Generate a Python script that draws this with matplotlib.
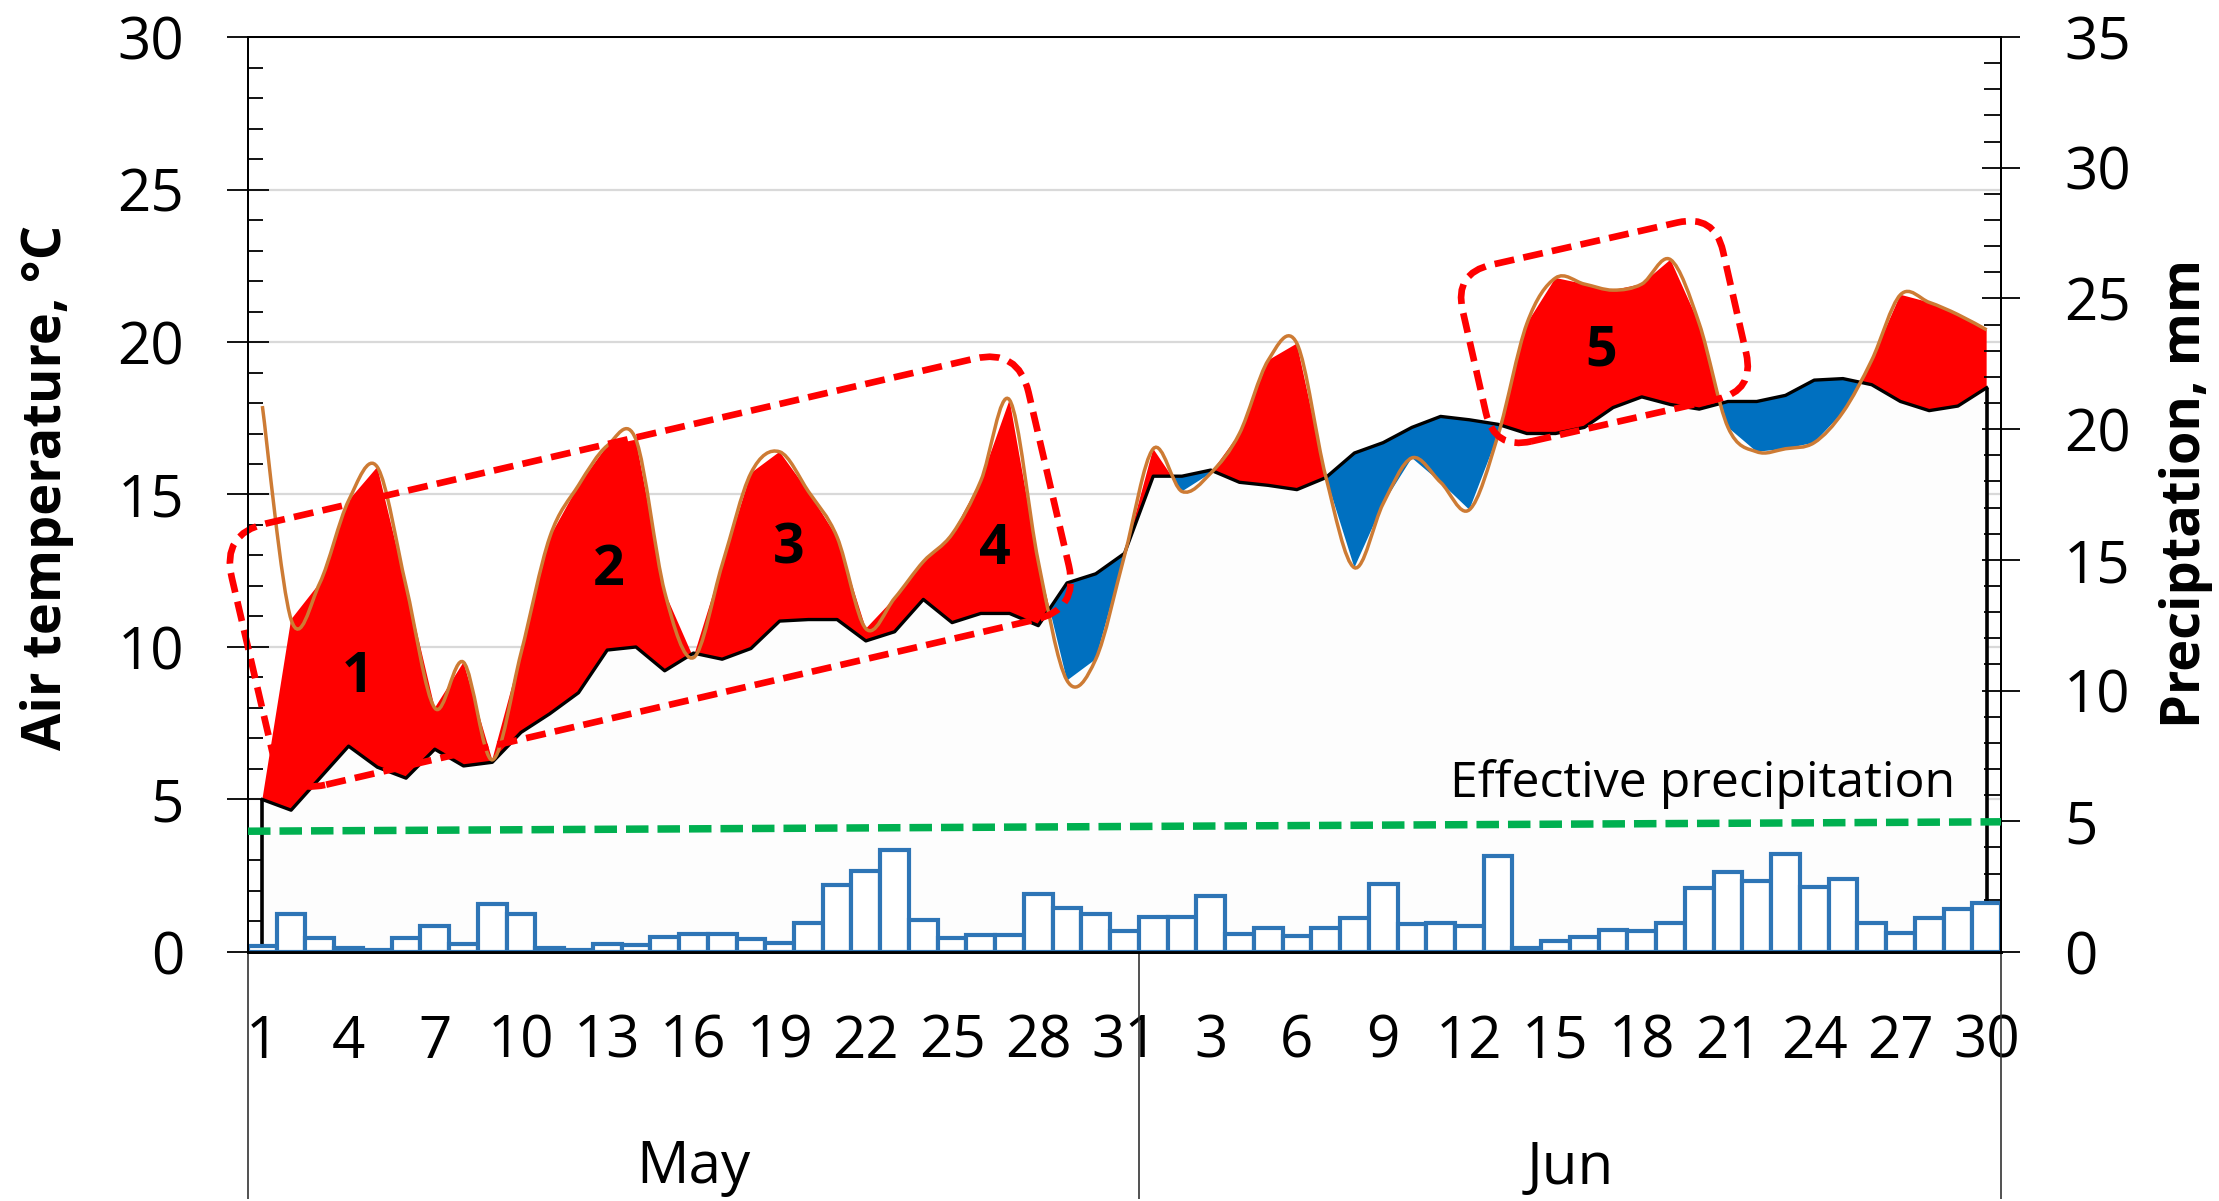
import numpy as np
import matplotlib.pyplot as plt
from matplotlib.path import Path
from matplotlib.patches import PathPatch, FancyBboxPatch
from matplotlib.transforms import Affine2D, ScaledTranslation, blended_transform_factory
from matplotlib.ticker import MultipleLocator

plt.rcParams['font.family'] = ['Open Sans', 'DejaVu Sans']

# daily values, May 1 .. Jun 30
may_days = list(range(1, 32))
jun_days = list(range(1, 31))
months = ['May', 'Jun']

# air temperature (orange, smoothed line)
air_temp = [17.9, 10.9, 12.1, 14.8, 15.9, 12.0, 8.0, 9.5, 6.3, 9.8,
            13.6, 15.3, 16.6, 16.8, 11.8, 9.65, 12.7, 15.7, 16.4, 15.1,
            13.6, 10.6, 11.6, 12.8, 13.7, 15.45, 18.1, 12.8, 8.9, 9.6,
            13.0,
            16.5, 15.1, 15.7, 17.0, 19.4, 19.95, 15.6, 12.6, 14.7, 16.2,
            15.4, 14.5, 16.95, 20.6, 22.1, 21.9, 21.7, 21.9, 22.7, 20.6,
            17.2, 16.4, 16.5, 16.7, 17.7, 19.4, 21.55, 21.3, 20.9, 20.4]

# long-term norm (black line)
temp_norm = [5.0, 4.65, 5.7, 6.75, 6.06, 5.7, 6.65, 6.1, 6.22, 7.2,
             7.81, 8.5, 9.9, 10.0, 9.22, 9.8, 9.6, 9.95, 10.85, 10.9,
             10.9, 10.2, 10.5, 11.56, 10.8, 11.1, 11.1, 10.7, 12.1, 12.4,
             13.07,
             15.6, 15.6, 15.8, 15.4, 15.3, 15.16, 15.55, 16.36, 16.7, 17.2,
             17.56, 17.45, 17.3, 17.0, 17.0, 17.2, 17.85, 18.2, 17.95, 17.8,
             18.05, 18.05, 18.25, 18.75, 18.8, 18.6, 18.05, 17.75, 17.9, 18.5]

# precipitation, mm
precip = [0.23, 1.44, 0.52, 0.17, 0.09, 0.52, 1.0, 0.29, 1.85, 1.44,
          0.14, 0.06, 0.29, 0.26, 0.59, 0.69, 0.69, 0.49, 0.33, 1.1,
          2.55, 3.1, 3.92, 1.24, 0.52, 0.65, 0.65, 2.23, 1.7, 1.44,
          0.8,
          1.35, 1.32, 2.15, 0.69, 0.93, 0.6, 0.93, 1.29, 2.59, 1.06,
          1.12, 1.0, 3.67, 0.14, 0.42, 0.57, 0.83, 0.79, 1.1, 2.44,
          3.05, 2.72, 3.74, 2.49, 2.81, 1.12, 0.74, 1.29, 1.63, 1.89]

eff_precip = [4.62, 4.98]   # start / end of the effective precipitation line, mm

period_labels = ['1', '2', '3', '4', '5']


def smooth_path(xs, ys):
    # Excel-like smoothed line (cubic bezier through the points)
    pts = np.column_stack([xs, ys]).astype(float)
    n = len(pts)
    verts = [pts[0]]
    codes = [Path.MOVETO]
    for i in range(n - 1):
        p0 = pts[max(i - 1, 0)]
        p1 = pts[i]
        p2 = pts[i + 1]
        p3 = pts[min(i + 2, n - 1)]
        verts += [p1 + (p2 - p0) / 6, p2 - (p3 - p1) / 6, p2]
        codes += [Path.CURVE4] * 3
    return Path(verts, codes)


def dashed_box(ax, cx, cy, w, h, angle, r):
    box = FancyBboxPatch((-w / 2, -h / 2), w, h,
                         boxstyle='round,pad=0,rounding_size=%d' % r,
                         fill=False, edgecolor='#FF0000', lw=4.8,
                         linestyle=(0, (3.0, 1.4)), zorder=8, clip_on=False)
    box.set_transform(Affine2D().rotate_deg(angle) + ScaledTranslation(cx, cy, ax.transData))
    ax.add_patch(box)


x = np.arange(len(may_days) + len(jun_days))
norm = np.array(temp_norm)
warm = np.array(air_temp)
warm[0] = norm[0]   # shading starts from day 2

fig = plt.figure(figsize=(22.19, 12.01), dpi=100)
ax = fig.add_axes([0.11176, 0.20733, 0.79, 0.76186])
ax.set_xlim(-0.5, len(x) - 0.5)
ax.set_ylim(0, 30)

ax.fill_between(x, 0, norm, color='#FDFDFD', lw=0, zorder=1)
ax.fill_between(x, norm, warm, where=warm >= norm, interpolate=True, color='#FF0000', lw=0, zorder=2)
ax.fill_between(x, norm, warm, where=warm <= norm, interpolate=True, color='#0070C0', lw=0, zorder=2)
ax.plot(x, norm, color='black', lw=2.4, zorder=3)
ax.vlines([x[0], x[-1]], 0, [norm[0], norm[-1]], color='black', lw=2.6, zorder=3)
ax.add_patch(PathPatch(smooth_path(x, air_temp), fill=False, edgecolor='#CD7B34', lw=2.5, zorder=4))

ax.yaxis.set_major_locator(MultipleLocator(5))
ax.yaxis.set_minor_locator(MultipleLocator(1))
ax.grid(axis='y', which='major', color='#D9D9D9', lw=1.6)
ax.set_axisbelow(True)
ax.tick_params(axis='y', which='major', direction='inout', length=30, width=1.3, pad=31, labelsize=42)
ax.tick_params(axis='y', which='minor', direction='in', length=11, width=1.3)

day_labels = [str(d) for d in may_days + jun_days]
ax.set_xticks(x[::3])
ax.set_xticklabels(day_labels[::3])
ax.tick_params(axis='x', length=0, pad=44, labelsize=42)
for s in ax.spines.values():
    s.set_linewidth(1.4)
    s.set_color('black')
ax.spines['bottom'].set_linewidth(2)

# month labels and separators under the axis
tr = blended_transform_factory(ax.transData, ax.transAxes)
bounds = [-0.5, len(may_days) - 0.5, len(x) - 0.5]
ax.vlines(bounds, -0.27, 0, transform=tr, color='#333333', lw=1.2, clip_on=False)
for i, m in enumerate(months):
    ax.text((bounds[i] + bounds[i + 1]) / 2, -0.2525, m, transform=tr, ha='center', va='baseline', fontsize=42)

# period boxes and numbers
for lab, (px, py) in zip(period_labels, [(3.3, 9.0), (12.05, 12.5), (18.3, 13.2), (25.5, 13.2), (46.6, 19.7)]):
    ax.text(px, py, lab, ha='center', va='center', fontsize=40, fontweight='bold', zorder=9)
dashed_box(ax, 13.5, 12.47, 818, 268, 13.1, 45)
dashed_box(ax, 46.7, 20.33, 267, 181, 12.8, 38)

ax.text(50.1, 5.5, 'Effective precipitation', ha='center', va='center', fontsize=36, zorder=9)

# precipitation on the right axis
ax2 = ax.twinx()
ax2.set_ylim(0, 35)
ax2.bar(x, precip, width=1.0, facecolor='white', edgecolor='#2E75B6', lw=3, zorder=2)
ax2.plot([x[0] - 0.5, x[-1] + 0.5], eff_precip, color='#00B050', lw=5.4, linestyle=(0, (3.0, 1.2)), zorder=3)
ax2.yaxis.set_major_locator(MultipleLocator(5))
ax2.yaxis.set_minor_locator(MultipleLocator(1))
ax2.tick_params(axis='y', which='major', direction='inout', length=27, width=1.3, pad=32, labelsize=42)
ax2.tick_params(axis='y', which='minor', direction='in', length=12, width=1.3)
for s in ax2.spines.values():
    s.set_linewidth(1.4)
    s.set_color('black')
ax2.spines['bottom'].set_linewidth(2)

fig.text(47 / 2219, 1 - 487 / 1201, 'Air temperature, °C', rotation=90, ha='center', va='center',
         fontsize=39, fontweight='bold')
fig.text(2186 / 2219, 1 - 494 / 1201, 'Preciptation, mm', rotation=90, ha='center', va='center',
         fontsize=39, fontweight='bold')

fig.savefig('out.png', dpi=100)
